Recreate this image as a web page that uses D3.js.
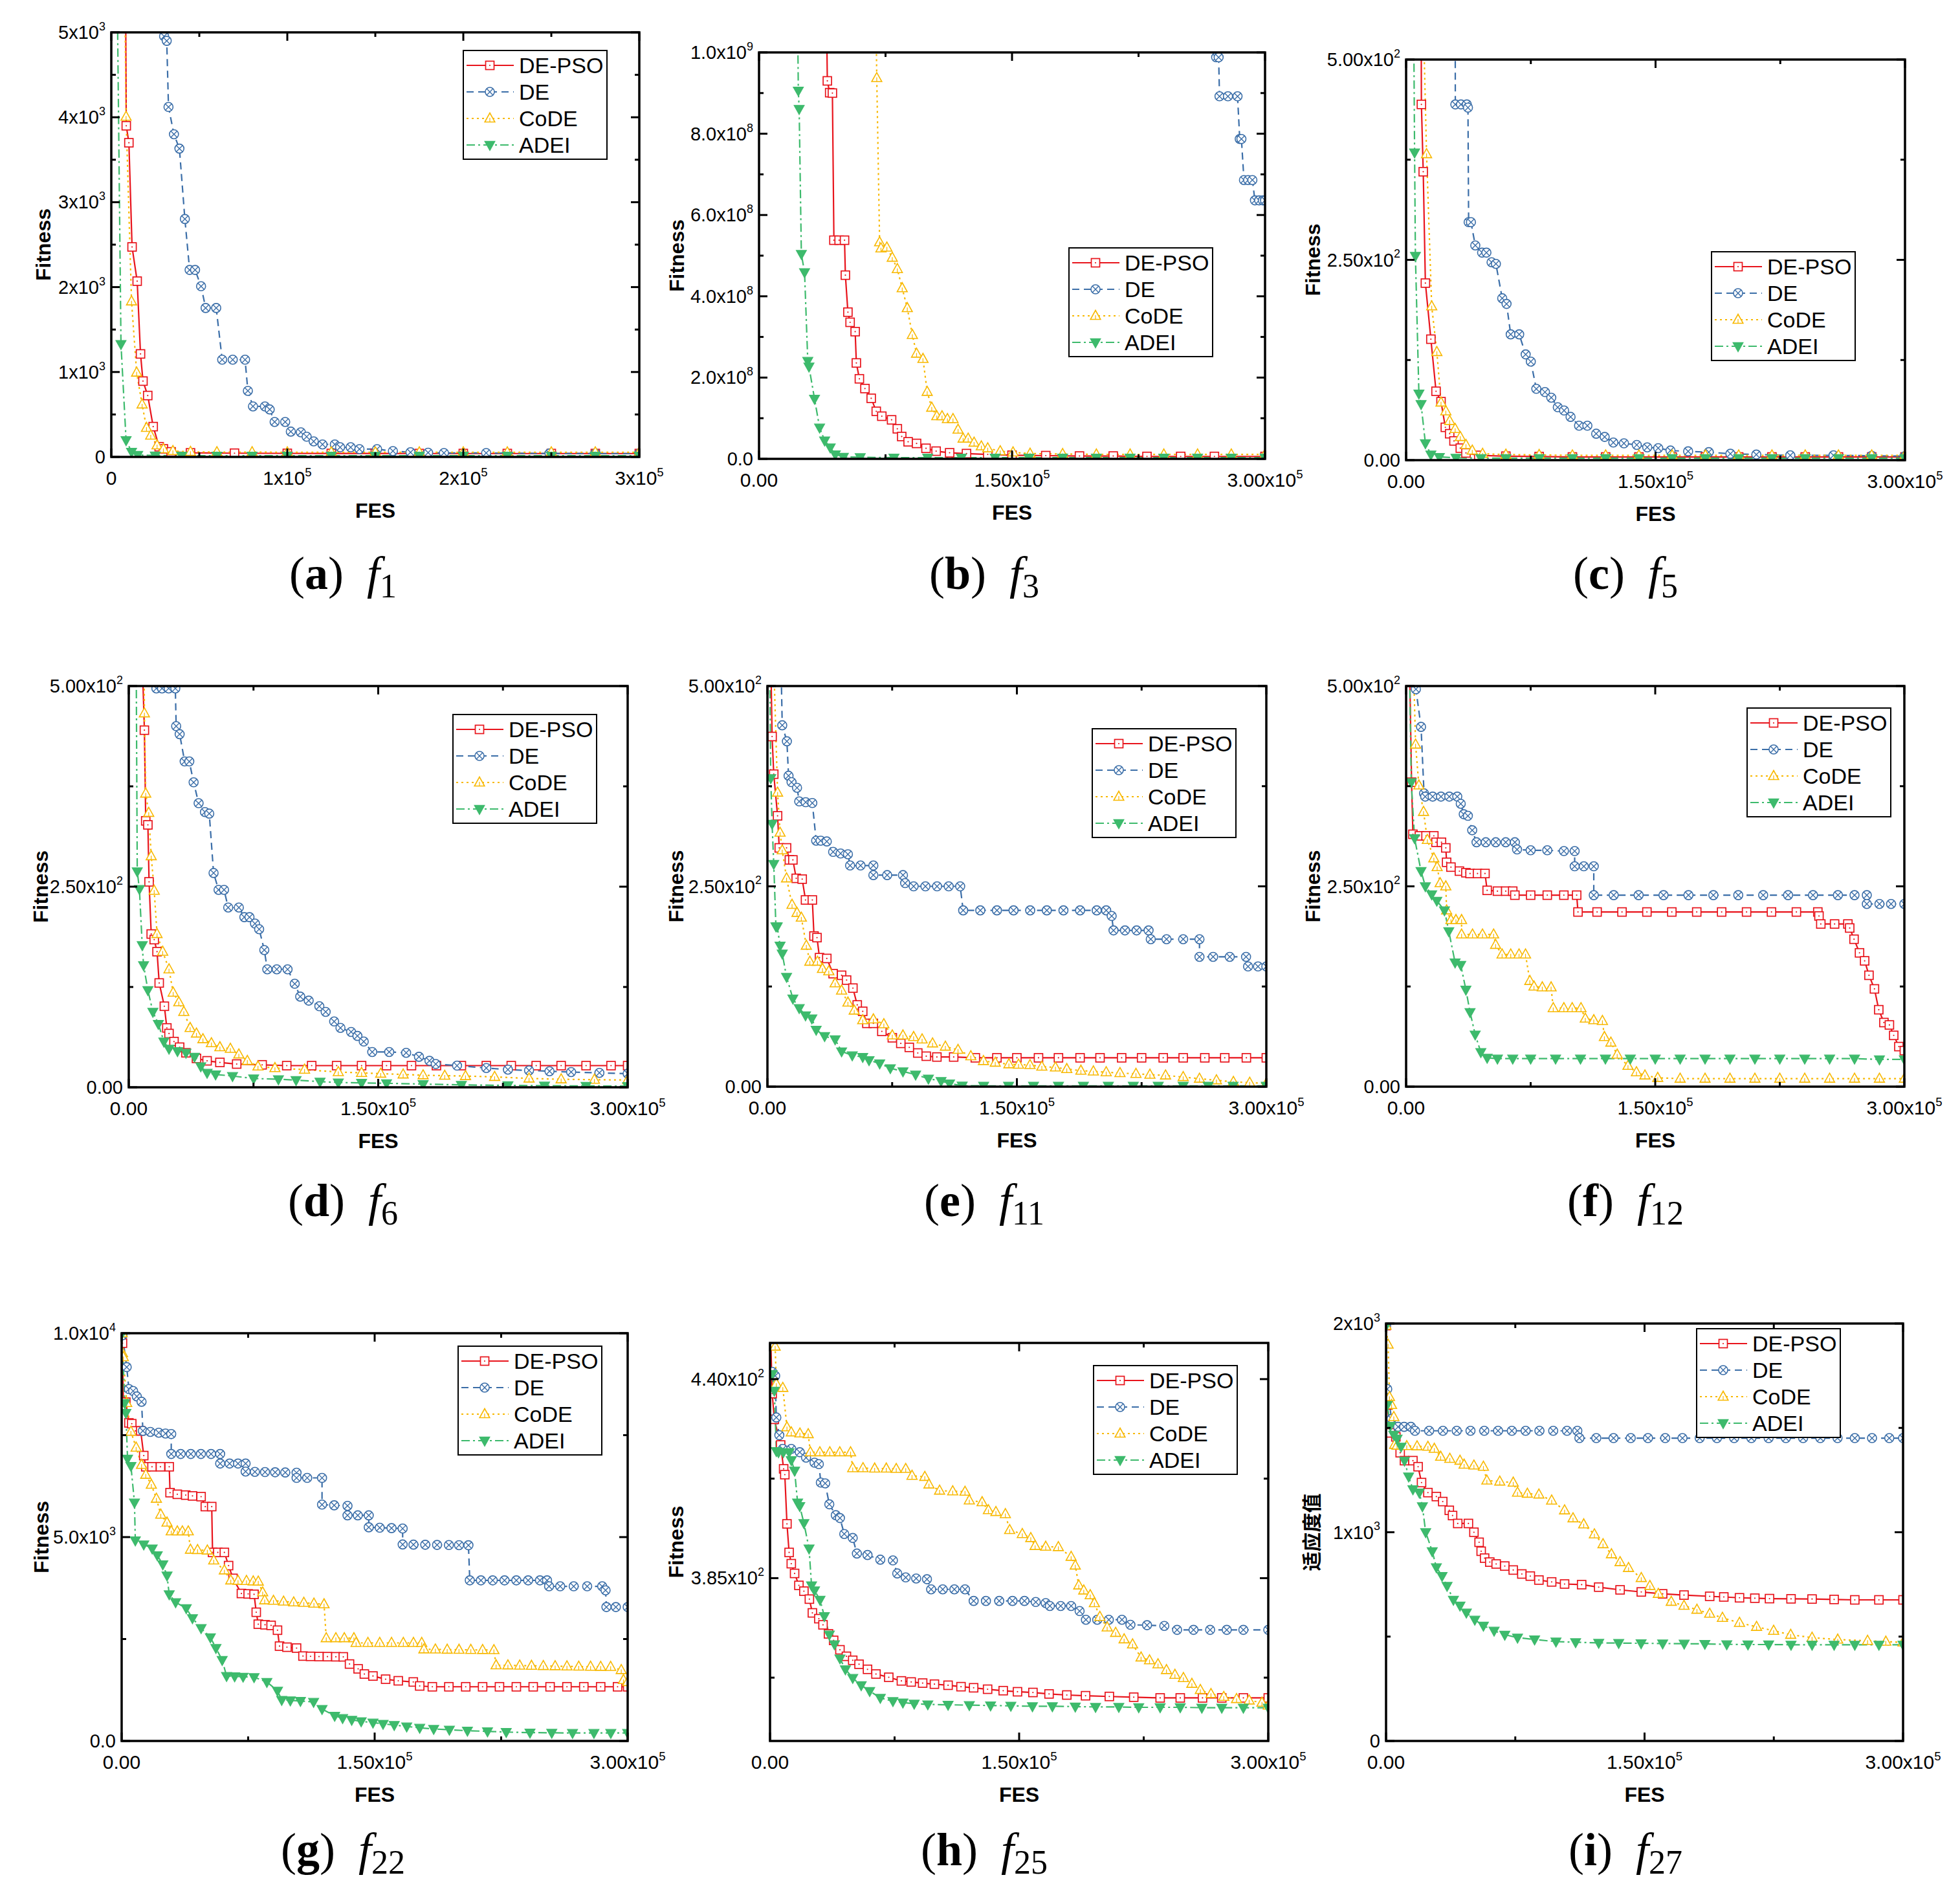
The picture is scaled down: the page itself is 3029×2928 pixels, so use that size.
<!DOCTYPE html>
<html><head><meta charset="utf-8">
<script src="https://cdn.jsdelivr.net/npm/d3@7"></script>
<style>body{margin:0;background:#fff}</style>
</head><body>
<svg id="c" width="3029" height="2928"></svg>
<script>
// ---------- DATA (x in thousands of FES) ----------
const seriesNames = ["DE-PSO","DE","CoDE","ADEI"];

// f1
const f1_DEPSO=[[8,6000],[8.5,3900],[10,3700],[11.8,2473],[14.7,2070],[16.6,1213],[18,893],[20.7,723],[23.8,357],[27.2,120],[29.6,95],[34,60],[45,48],[70,44],[100,42],[125,41],[150,41],[175,40],[200,40],[225,40],[250,40],[275,40],[300,40]];
const f1_DE=[[29.5,5500],[30,4954],[31.5,4900],[32.5,4121],[35.6,3800],[38.7,3631],[41.8,2802],[44.5,2202],[47.6,2202],[51,2010],[53.6,1754],[59.6,1754],[63,1145],[69,1145],[76,1145],[77.6,778],[80.5,595],[87.3,595],[90,559],[92.8,412],[98.8,412],[102,298],[107.7,290],[111,238],[115,183],[120,147],[127,147],[130,114],[136,114],[141,92],[151,92],[160,69],[170,55],[180,50],[189,46],[213,46],[249,41],[275,40],[300,40]];
const f1_CoDE=[[7.4,6000],[8.4,4007],[11.5,1832],[14.4,994],[17.5,618],[20,343],[22.4,252],[26,137],[29.6,92],[35,70],[45,60],[60,57],[80,56],[100,55],[125,55],[150,55],[175,55],[200,55],[225,55],[250,55],[275,55],[300,55]];
const f1_ADEI=[[3.1,6000],[5.5,1328],[8.4,197],[11.5,60],[15,23],[25,16],[40,15],[60,15],[80,15],[100,15],[125,15],[150,15],[175,15],[200,15],[225,15],[250,15],[275,15],[300,15]];

// f3
const f3_DEPSO=[[39.7,1.2e9],[40.5,930e6],[41.9,901e6],[43.5,900e6],[44.4,538e6],[47.5,538e6],[50.7,538e6],[51.2,452e6],[52.7,361e6],[54,336e6],[57,313e6],[57.7,236e6],[59.5,197e6],[62.8,173e6],[66.5,149e6],[69.5,117e6],[72.8,105e6],[78.6,96e6],[82,74e6],[84.6,55e6],[88.4,42e6],[93.4,38e6],[99,26e6],[105,19e6],[113,15e6],[123,13e6],[135.6,11e6],[150,9e6],[170,8e6],[190,7e6],[210,7e6],[230,6e6],[250,6e6],[270,6e6],[300,6e6]];
const f3_DE=[[270,1.1e9],[271,988e6],[272.5,988e6],[273,892e6],[278,892e6],[283.7,892e6],[285,787e6],[286,787e6],[287.5,686e6],[290,686e6],[292.5,686e6],[294,636e6],[296.5,636e6],[298.7,636e6],[300,636e6]];
const f3_CoDE=[[69,1.2e9],[69.8,937e6],[71.5,533e6],[72.3,518e6],[75.8,520e6],[79,495e6],[82,467e6],[84.9,420e6],[87.9,371e6],[90.9,305e6],[93.4,259e6],[97.2,246e6],[99.7,165e6],[102.4,126e6],[105.4,105e6],[108.5,105e6],[111.7,98e6],[115,98e6],[118,72e6],[121,50e6],[124,50e6],[127.5,40e6],[131.8,31e6],[135.6,26e6],[143,19e6],[150.6,16e6],[160.7,13e6],[180,12e6],[200,11e6],[220,11e6],[240,11e6],[260,11e6],[280,11e6],[300,11e6]];
const f3_ADEI=[[22.6,1.2e9],[23.3,906e6],[23.8,861e6],[25.1,504e6],[27,459e6],[28.9,241e6],[29.6,227e6],[32.9,148e6],[35.9,77e6],[38.9,45e6],[42.2,28e6],[45.2,11e6],[50,5e6],[60,4e6],[80,3e6],[100,3e6],[120,3e6],[140,3e6],[160,3e6],[180,3e6],[200,3e6],[220,3e6],[240,3e6],[260,3e6],[280,3e6],[300,3e6]];

// f5
const f5_DEPSO=[[9,600],[9.2,444],[10.3,360],[11.6,221],[14.9,151],[18,86],[21,73],[23.6,41],[26.2,33],[28.8,24],[32.6,15],[36,9],[43.7,6],[60,5],[80,4.5],[100,4],[120,4],[140,4],[160,4],[180,4],[200,4],[220,4],[240,4],[260,4],[280,4],[300,4]];
const f5_DE=[[29.5,600],[29.6,444],[33,444],[36.5,444],[37.2,440],[37.6,297],[39,297],[41.6,268],[45.7,259],[48.3,259],[51.4,247],[54,245],[57.8,202],[60.4,195],[62.9,157],[68,157],[71.9,132],[75,123],[78.3,89],[83.5,85],[87.3,78],[91.2,66],[95,62],[98.9,54],[104,43],[109,43],[114.3,33],[119.4,29],[124.6,22],[131,21],[138.7,19],[145,16],[151.6,15],[159,12],[169.6,11],[182,10],[195,8],[210.6,7],[231,6],[257,6],[280,5.5],[300,5]];
const f5_CoDE=[[9.8,600],[12.3,382],[15.4,192],[18.5,135],[21,72],[23.9,61],[26.2,49],[29.5,39],[32.6,29],[36,19],[39.8,12],[46,8],[60,7],[80,6.5],[100,6],[120,6],[140,6],[160,6],[180,6],[200,6],[220,6],[240,6],[260,6],[280,6],[300,6]];
const f5_ADEI=[[4.4,600],[5.1,384],[5.6,255],[7.7,83],[9,70],[11.6,21],[14.9,7],[20,4],[30,3],[45,2.5],[60,2.5],[80,2.5],[100,2.5],[120,2.5],[140,2.5],[160,2.5],[180,2.5],[200,2.5],[220,2.5],[240,2.5],[260,2.5],[280,2.5],[300,2.5]];

// f6
const f6_DEPSO=[[7.1,600],[9.4,445],[10.2,332],[11.5,327],[12.2,256],[13.5,191],[15.3,184],[17,169],[18.3,130],[21.4,101],[22.9,74],[24.2,67],[27.2,57],[30.6,50],[34.4,43],[40.7,36],[47.1,33],[54.8,31],[64.9,29],[80.2,28],[95,27],[110,27],[125,27],[140,27],[155,27],[170,27],[185,27],[200,27],[215,27],[230,27],[245,27],[260,27],[275,27],[290,27],[300,27]];
const f6_DE=[[15,600],[16.6,497],[20,497],[24,497],[28,497],[28.5,450],[30.6,440],[33.6,406],[36.4,406],[39,380],[42,354],[45.8,343],[48.4,341],[51,267],[54,246],[57.3,246],[59.8,224],[66.2,224],[69.5,212],[72.6,212],[75.9,204],[78.4,197],[81.5,171],[83.3,147],[89,147],[95.5,147],[99.8,129],[103.1,113],[108.2,108],[114.6,101],[118.4,94],[123.5,82],[127.3,74],[133.7,69],[137.5,64],[141.3,57],[146.4,44],[156.6,44],[166.8,43],[174.5,38],[180.8,33],[184.6,29],[197.4,27],[215,24],[228,22],[240.7,21],[253,20],[266,19],[283,18],[300,17]];
const f6_CoDE=[[9,600],[9.4,466],[10.2,366],[12,342],[13.5,288],[15.3,245],[17,191],[20.4,169],[24.2,147],[26.7,118],[30.1,106],[33.1,94],[36.9,74],[40.7,67],[44.6,60],[49.7,55],[54.8,50],[61.1,48],[66.2,41],[71.3,33],[77.7,26],[87.9,24],[105.7,22],[126,19],[140,18],[151.5,17],[165,16],[177,15],[190,14.5],[202.5,14],[220,13],[240.7,11],[260,10],[280,9.5],[300,9]];
const f6_ADEI=[[4.3,600],[5.1,269],[6.4,247],[8.1,177],[8.9,152],[11.5,121],[14.5,94],[17.8,79],[21.1,57],[24.2,48],[29.3,45],[34.4,43],[39.5,38],[43.3,26],[47.1,18],[52.2,16],[62.4,14],[75.1,11],[90,10],[100.6,9],[115,7],[126,6],[140,5.5],[155,5],[177,4],[200,3],[228,2.4],[250,2],[275,1.7],[300,1.5]];

// f11
const f11_DEPSO=[[1.5,600],[2.8,437],[3.8,390],[6.1,338],[7.1,298],[11.5,298],[13.2,283],[15.3,283],[17.3,260],[20.9,259],[22.9,233],[27,233],[28,188],[29.8,186],[31.3,161],[35.7,160],[39.5,141],[44.6,139],[47.6,133],[51.4,123],[54,102],[57.3,94],[59.8,79],[63.7,79],[68.8,69],[75.1,61],[80.2,54],[85.3,49],[90.4,42],[95.5,38],[101.9,37],[112,37],[125,36],[138,36],[150,36],[163,36],[175,36],[188,36],[200,36],[213,36],[225,36],[238,36],[250,36],[263,36],[275,36],[288,36],[300,36]];
const f11_DE=[[7.5,600],[8.9,451],[11.7,431],[12.7,388],[14.5,380],[17.8,373],[19.1,356],[23,355],[27,354],[29.3,307],[32,307],[35.7,306],[39.5,293],[44,291],[48.4,290],[49.7,276],[56,276],[63.7,276],[63.7,264],[72,264],[81.5,264],[82.8,254],[87.9,250],[95,250],[102,250],[109,250],[115.9,250],[117.7,220],[128,220],[138,220],[148,220],[158,220],[168,220],[178,220],[188,220],[198,220],[203.7,220],[207,213],[208.1,195],[215,195],[222,195],[229.2,195],[230.5,184],[240,184],[250,184],[259.8,184],[259.8,162],[268,162],[278,162],[287.8,162],[289,150],[295,150],[300,150]];
const f11_CoDE=[[2.8,600],[6.1,367],[7.6,317],[8.9,295],[11.5,260],[14.8,227],[17.8,217],[20.4,211],[23.4,176],[25.5,156],[30.1,156],[33.1,147],[36.9,144],[40.7,129],[44.6,120],[48.4,105],[52.2,95],[57.3,83],[63.7,84],[70,78],[75.1,64],[81.5,64],[87.9,62],[93,59],[99.3,54],[107,50],[114.6,46],[122.3,38],[129.9,32],[137,30],[145.2,28],[151,27.5],[157.9,27],[165,25],[173.2,24],[180,22],[188.5,20],[196,19],[203.7,18],[212,17],[221.6,16],[230,15],[239.4,14],[250,12],[259.8,10],[270,8],[280.2,6],[290,5],[300,4]];
const f11_ADEI=[[1,600],[2,385],[2.8,328],[3.8,278],[5.1,200],[5.9,200],[7.6,176],[8.9,166],[11.5,137],[15.3,110],[19.1,98],[22.9,89],[26.7,85],[29.3,71],[34.4,63],[40.7,59],[44.6,44],[51,39],[57.3,37],[61.1,33],[67.5,29],[73.9,23],[81.5,19],[89.1,15],[96.8,10],[104.4,7],[109.5,4],[117.1,1.2],[130,1],[145,1],[160,1],[175,1],[190,1],[205,1],[220,1],[235,1],[250,1],[265,1],[280,1],[300,1]];

// f12
const f12_DEPSO=[[1.5,600],[3.3,380],[4.1,315],[8,313],[12,313],[16.7,313],[18,305],[21.3,305],[23.9,298],[24.4,280],[27,274],[32.1,269],[36,267],[38.5,266],[43,266],[47.5,266],[48.8,245],[55,244],[60,244],[64.2,244],[65.5,239],[75,239],[85,239],[95,239],[102.7,239],[103.5,218],[115,218],[130,218],[145,218],[160,218],[175,218],[190,218],[205,218],[220,218],[235,218],[247.9,218],[248.6,213],[249.7,203],[258,203],[266,203],[267.1,198],[269.7,184],[273,167],[276.1,157],[278.7,139],[282,122],[284.6,96],[287.7,80],[291,77],[293.6,64],[296.7,50],[300,45]];
const f12_DE=[[4.5,600],[5.9,496],[9,449],[10.8,366],[11.5,362],[16,362],[21,362],[26,362],[30.8,362],[32.9,353],[34.7,340],[37.2,338],[39.8,320],[42.4,305],[48,305],[54,305],[60,305],[65.5,305],[66.8,296],[75,295],[85,295],[95,294],[101.5,294],[101.5,275],[107,275],[113,275],[113,239],[125,239],[140,239],[155,239],[170,239],[185,239],[200,239],[215,239],[230,239],[245,239],[260,239],[270,239],[277.4,239],[277.4,228],[285,228],[292,228],[300,228]];
const f12_CoDE=[[3.5,600],[5.7,427],[7.7,376],[10.5,343],[12.8,308],[16.7,285],[18.7,274],[20.5,254],[23.9,250],[24.4,220],[27,208],[30,208],[33.4,208],[33.4,190],[40,190],[46,190],[52.7,190],[53.9,177],[57.8,165],[63,165],[68,165],[71.9,165],[74.5,132],[77,125],[82,124],[87.3,124],[88.6,98],[95,98],[100,98],[105.3,98],[107.9,85],[113,83],[118.2,82],[119.4,62],[123.3,55],[127.1,40],[133.6,26],[138.7,18],[143.8,14],[151.5,11],[165,10],[180,10],[195,10],[210,10],[225,10],[240,10],[255,10],[270,10],[285,10],[300,10]];
const f12_ADEI=[[1.5,600],[3.1,380],[5.1,310],[9,269],[11.6,250],[15.4,240],[18.5,232],[23.1,220],[25.7,194],[29.5,155],[32.9,152],[36,121],[38.5,93],[41.6,65],[45,43],[48.8,36],[55,35],[64.2,35],[75,35],[90,35],[105,35],[120,35],[135,35],[150,35],[165,35],[180,35],[195,35],[210,35],[225,35],[240,35],[255,35],[270,35],[285,34],[300,34]];

// f22
const f22_DEPSO=[[0.3,10000],[0.5,9756],[1,8309],[2.5,8309],[4.3,7801],[6,7781],[8.1,7605],[11.3,7605],[13.1,6999],[14.3,6725],[18,6725],[23,6725],[28.2,6725],[28.7,6090],[33,6050],[38,6030],[42,6010],[47.1,5992],[49.6,5748],[53.4,5748],[53.9,4624],[57,4624],[60.9,4624],[63.4,4301],[66,3988],[71,3617],[75,3607],[78.5,3597],[79.8,3157],[81,2864],[85,2850],[88.6,2835],[92.4,2717],[93.6,2326],[98,2300],[103.7,2278],[107.5,2082],[112,2075],[117,2070],[122,2068],[127,2065],[131.4,2063],[135.1,1887],[140.2,1769],[143.9,1642],[149,1593],[156.5,1515],[164,1476],[172.9,1447],[176.7,1349],[184.2,1329],[194,1329],[204,1329],[214,1329],[224,1329],[234,1329],[244,1329],[254,1329],[264,1329],[274,1329],[284,1329],[294,1329],[300,1329]];
const f22_DE=[[0.5,9951],[3,9169],[4.3,8631],[6.8,8583],[9,8450],[11.8,8319],[12.6,7605],[17,7580],[22,7560],[26,7540],[29.4,7527],[29.4,7038],[35,7038],[41,7038],[47,7038],[53,7038],[58.4,7038],[58.4,6804],[64,6804],[69,6804],[73.5,6804],[73.5,6608],[79,6600],[85,6595],[91,6590],[97,6585],[103.7,6579],[103.7,6452],[110,6452],[118.8,6452],[118.8,5797],[126,5780],[133.9,5767],[133.9,5533],[140,5533],[146.5,5533],[146.5,5240],[153,5230],[160,5220],[166.6,5210],[166.6,4819],[173,4815],[180,4812],[187,4808],[194,4805],[200,4802],[205.6,4800],[206.4,3939],[213,3939],[220,3939],[227,3939],[234,3939],[241,3939],[248,3939],[252.2,3939],[253.4,3793],[260,3793],[268,3793],[276,3793],[284.9,3793],[286.9,3695],[287.4,3284],[293,3284],[300,3284]];
const f22_CoDE=[[0.3,10000],[0.5,9511],[1,9413],[3,8289],[5.5,7586],[8.6,7195],[11.8,6774],[14.3,6530],[17.6,6285],[20.6,5943],[23.2,5552],[26.9,5357],[29.4,5142],[33,5142],[36,5142],[39.5,5142],[40.8,4692],[45,4685],[50.8,4673],[54.6,4428],[60.9,4184],[64.7,3939],[69,3930],[74,3925],[78,3915],[81,3910],[83.6,3646],[84.8,3451],[90,3440],[96,3420],[102,3400],[108,3390],[114,3370],[120,3353],[121.3,2522],[127,2522],[132,2522],[137.7,2522],[139,2405],[146,2405],[153,2405],[160,2405],[167,2405],[173,2405],[177.9,2405],[179.2,2248],[186,2245],[193,2240],[200,2238],[207,2235],[214,2232],[220.7,2229],[222,1857],[229,1855],[236,1850],[243,1845],[250,1840],[257,1835],[264,1830],[271,1825],[278,1822],[284,1820],[289.9,1818],[296.2,1740],[297.5,1496],[300,1447]];
const f22_ADEI=[[0.3,10000],[1.8,8289],[2.5,8045],[3.5,6921],[5.5,6745],[7.6,5846],[8.1,4917],[13.1,4819],[18.1,4721],[21.1,4555],[24.4,4330],[26.9,4057],[28.2,3597],[32,3402],[38.3,3255],[42,3011],[47.1,2766],[52.6,2541],[55.9,2278],[59.6,1984],[62.2,1593],[67,1585],[72,1575],[78.5,1564],[86.1,1447],[92.4,1232],[94.9,1007],[100,995],[106,980],[113.8,958],[118.8,782],[126.3,616],[131,560],[136.4,518],[142,480],[149,450],[155,420],[161.6,391],[169,355],[176.7,323],[185,295],[194.3,274],[205,252],[216.9,235],[228,218],[242.1,205],[255,200],[267.3,196],[280,196],[290,196],[300,196]];

// f25
const f25_DEPSO=[[0.5,450],[1.3,436],[2.6,428.9],[6.4,421.8],[8.2,415.2],[8.9,413.6],[10.2,400],[11.5,392.1],[12.8,389],[14.8,386.3],[17.4,383],[20.4,381.4],[23.7,379.2],[25.5,375.4],[29.4,373.8],[31.9,372.1],[35.2,369.6],[38.3,367.8],[42.1,365.2],[46,363.4],[49.8,362.3],[53.6,361.2],[58.7,359.8],[63.8,358.5],[71.5,357.6],[79.1,356.6],[85,356.3],[91.9,356],[99,355.7],[107.2,355.4],[115,355],[122.6,354.7],[131,354.3],[140.4,353.9],[149,353.6],[158.3,353.4],[168,353],[178.7,352.7],[190,352.5],[204.3,352.3],[219,352.1],[234.9,351.9],[247,351.9],[260.4,351.9],[272,351.9],[285,351.9],[300,351.9]];
const f25_DE=[[1.3,442],[3.1,440.9],[3.8,429.4],[5.6,424.5],[7.7,420.7],[12.8,420.7],[17.9,419.8],[21.7,418.3],[26.8,416.9],[29.4,416.5],[30.6,411.4],[33.2,411.2],[35.7,405.4],[39.6,402.4],[42.1,401.6],[44.7,397.2],[49.8,396.1],[52.3,391.8],[58.7,391.4],[66.4,390.1],[74,389.9],[76.6,386.3],[81.7,385.2],[88,384.9],[94.5,384.7],[97,381.9],[104,381.9],[111,381.9],[117.4,381.9],[122.6,378.7],[130,378.7],[138,378.7],[146,378.7],[153.2,378.7],[160,378.4],[166,378.1],[168.5,377.3],[175,377.3],[181.3,377.3],[186.4,375.9],[190.2,373.5],[197,373.5],[204,373.5],[211.9,373.5],[217,372.1],[227,372],[237.4,371.8],[245.1,370.7],[255,370.7],[265,370.7],[275,370.7],[285,370.7],[300,370.7]];
const f25_CoDE=[[2.6,452],[3.1,449],[3.8,438.7],[7.7,437.6],[10.2,426.7],[12.8,425.3],[18,425],[23,424.8],[24.3,419.8],[30,419.8],[36,419.8],[42,419.8],[48.5,419.8],[49.8,415.4],[56,415.4],[63,415.3],[70,415.3],[76,415.2],[81.7,415.2],[85.5,413.3],[93.2,413],[95.7,410.9],[102.1,409.2],[110,409],[117.4,408.9],[120,406.5],[127.7,406],[131.5,403.8],[136,403.3],[141.7,402.7],[144.3,398.3],[151.9,397.2],[157,396.1],[159.6,393.9],[166,393.7],[173.6,393.6],[181.3,390.9],[183.8,388.5],[185.9,383],[188.9,381.6],[192.8,380.3],[195.3,378.1],[198.6,374.3],[203,371.4],[208.1,369.9],[213.2,368.1],[218.3,366.7],[223.4,363.1],[228.5,362.3],[233.6,361.2],[238.7,359.6],[243.8,358.3],[248.9,357.4],[254,355.8],[259.1,354.1],[265.5,353],[273.2,352.2],[280.9,351.6],[288.5,351.2],[296.2,350.6],[300,349.8]];
const f25_ADEI=[[1.3,441.4],[2.6,436.8],[3.8,420.1],[5.1,419.8],[8,419.8],[11.5,419.8],[12.8,417.6],[14.8,414.7],[16.6,405.9],[17.9,404.9],[20.4,400.2],[23.5,393.2],[25,383],[26.8,381.6],[30.1,379],[32.7,374.5],[35.7,369.4],[38.8,366.7],[42.1,362.8],[45.4,359.8],[49.8,357.4],[54.9,355.4],[60,353.8],[66.4,351.9],[74,351],[80,350.6],[86.8,350.3],[95,350.1],[107.2,350],[120,349.9],[132.8,349.8],[145,349.7],[158,349.6],[170,349.6],[183.8,349.5],[196,349.4],[210,349.4],[222,349.3],[234.9,349.3],[247,349.3],[260,349.2],[272,349.2],[285,349.2],[300,349.2]];

// f27
const f27_DEPSO=[[0,1990],[0.7,1610],[2.5,1476],[5.7,1457],[8.2,1381],[10.7,1343],[15.6,1343],[18.6,1314],[20.6,1238],[24.3,1190],[29.2,1171],[32.9,1147],[36.7,1105],[38.6,1080],[41.6,1042],[47.8,1042],[51,1000],[54,952],[55.2,909],[57.2,876],[60.2,857],[63.9,848],[68.9,838],[73.8,819],[78.8,800],[83.7,790],[88.7,771],[96.1,762],[103.6,752],[113.5,749],[123.4,737],[135.8,724],[148.1,714],[160.5,705],[172.9,699],[187.8,693],[196,690],[205.1,686],[214,684],[222.5,682],[235,681],[247.2,680],[260,678],[272,676],[286,676],[300,676]];
const f27_DE=[[0,1990],[0.7,1686],[3.2,1543],[7,1505],[10.5,1505],[14.4,1505],[16.8,1486],[25,1486],[33,1486],[41,1486],[49,1486],[57,1486],[65,1486],[73,1486],[81,1486],[89,1486],[97,1486],[105,1486],[111,1486],[112.2,1451],[122,1451],[132,1451],[142,1451],[152,1451],[162,1451],[172,1451],[182,1451],[192,1451],[202,1451],[212,1451],[222,1451],[232,1451],[242,1451],[252,1451],[262,1451],[272,1451],[282,1451],[292,1451],[300,1451]];
const f27_CoDE=[[0,1990],[1.2,1899],[2,1648],[3.2,1610],[4.5,1552],[5,1419],[6.4,1415],[12,1413],[18,1412],[24.3,1410],[28,1400],[31.7,1362],[37,1352],[42.9,1343],[45.3,1324],[51,1320],[56.5,1314],[58.5,1248],[66,1243],[73.8,1238],[76.3,1190],[82,1185],[88.7,1181],[96.1,1152],[103.6,1105],[108.5,1067],[114.7,1038],[120.9,990],[125.9,943],[130.8,895],[135.8,857],[140.7,829],[148.1,781],[153.1,743],[158,705],[165.5,667],[172.9,648],[180.4,629],[187.8,610],[195.2,590],[205.1,566],[215,547],[224.9,528],[234.8,509],[247.2,495],[262.1,486],[279.4,480],[290,476],[300,472]];
const f27_ADEI=[[0,1990],[0.7,1610],[2.5,1510],[4.5,1467],[6.4,1448],[8.7,1410],[10.7,1343],[13.1,1267],[15.6,1206],[19.3,1190],[21.1,1124],[23,1000],[26.8,909],[29.2,832],[32.5,790],[35.4,743],[39.1,676],[42.9,648],[46.6,615],[51.5,581],[56.5,552],[62.7,528],[68.9,509],[76.3,495],[86.2,486],[98.6,476],[110,473],[123.4,470],[135,469],[148,468],[160.5,467],[173,466],[185,465],[197.7,463],[210,462],[222,462],[235,461],[247.2,461],[260,461],[272,461],[286,461],[300,461]];

// tick labels [value, mantissa, exponent]
const xTicksA=[[0,"0",""],[100,"1x10","5"],[200,"2x10","5"],[300,"3x10","5"]];
const xMinorA=[50,150,250];
const xTicksStd=[[0,"0.00",""],[150,"1.50x10","5"],[300,"3.00x10","5"]];
const xMinorStd=[75,225];
const yTicksF1=[[0,"0",""],[1000,"1x10","3"],[2000,"2x10","3"],[3000,"3x10","3"],[4000,"4x10","3"],[5000,"5x10","3"]];
const yMinorF1=[500,1500,2500,3500,4500];
const yTicksF3=[[0,"0.0",""],[2e8,"2.0x10","8"],[4e8,"4.0x10","8"],[6e8,"6.0x10","8"],[8e8,"8.0x10","8"],[1e9,"1.0x10","9"]];
const yMinorF3=[1e8,3e8,5e8,7e8,9e8];
const yTicks500=[[0,"0.00",""],[250,"2.50x10","2"],[500,"5.00x10","2"]];
const yMinor500=[125,375];
const yTicksF22=[[0,"0.0",""],[5000,"5.0x10","3"],[10000,"1.0x10","4"]];
const yMinorF22=[2500,7500];
const yTicksF25=[[385,"3.85x10","2"],[440,"4.40x10","2"]];
const yMinorF25=[357.5,412.5];
const yTicksF27=[[0,"0",""],[1000,"1x10","3"],[2000,"2x10","3"]];
const yMinorF27=[500,1500];

// ---------- LAYOUT / STYLE ----------
const SER=[
 {name:seriesNames[0],color:"#e8141c",dash:null,mk:"sq"},
 {name:seriesNames[1],color:"#3b6ea8",dash:"11,7",mk:"cx"},
 {name:seriesNames[2],color:"#f8b800",dash:"3,5",mk:"tu"},
 {name:seriesNames[3],color:"#3dba6c",dash:"13,5,3,5",mk:"td"}
];
const panels=[
 {L:172,R:988,T:50,B:706,yd:[0,5000],xt:xTicksA,xm:xMinorA,yt:yTicksF1,ym:yMinorF1,d:[f1_DEPSO,f1_DE,f1_CoDE,f1_ADEI],lg:[716,78],ytx:78,yl:"Fitness",cap:["a","1"],cx:530,cy:910},
 {L:1173,R:1955,T:81,B:709,yd:[0,1e9],xt:xTicksStd,xm:xMinorStd,yt:yTicksF3,ym:yMinorF3,d:[f3_DEPSO,f3_DE,f3_CoDE,f3_ADEI],lg:[1652,383],ytx:1057,yl:"Fitness",cap:["b","3"],cx:1521,cy:910},
 {L:2173,R:2944,T:92,B:711,yd:[0,500],xt:xTicksStd,xm:xMinorStd,yt:yTicks500,ym:yMinor500,d:[f5_DEPSO,f5_DE,f5_CoDE,f5_ADEI],lg:[2645,389],ytx:2040,yl:"Fitness",cap:["c","5"],cx:2512,cy:910},
 {L:199,R:970,T:1060,B:1680,yd:[0,500],xt:xTicksStd,xm:xMinorStd,yt:yTicks500,ym:yMinor500,d:[f6_DEPSO,f6_DE,f6_CoDE,f6_ADEI],lg:[700,1104],ytx:74,yl:"Fitness",cap:["d","6"],cx:530,cy:1879},
 {L:1186,R:1957,T:1060,B:1679,yd:[0,500],xt:xTicksStd,xm:xMinorStd,yt:yTicks500,ym:yMinor500,d:[f11_DEPSO,f11_DE,f11_CoDE,f11_ADEI],lg:[1688,1126],ytx:1056,yl:"Fitness",cap:["e","11"],cx:1521,cy:1879},
 {L:2173,R:2943,T:1060,B:1679,yd:[0,500],xt:xTicksStd,xm:xMinorStd,yt:yTicks500,ym:yMinor500,d:[f12_DEPSO,f12_DE,f12_CoDE,f12_ADEI],lg:[2700,1094],ytx:2040,yl:"Fitness",cap:["f","12"],cx:2512,cy:1879},
 {L:188,R:970,T:2060,B:2690,yd:[0,10000],xt:xTicksStd,xm:xMinorStd,yt:yTicksF22,ym:yMinorF22,d:[f22_DEPSO,f22_DE,f22_CoDE,f22_ADEI],lg:[708,2080],ytx:75,yl:"Fitness",cap:["g","22"],cx:530,cy:2882},
 {L:1190,R:1960,T:2075,B:2690,yd:[340,450],xt:xTicksStd,xm:xMinorStd,yt:yTicksF25,ym:yMinorF25,d:[f25_DEPSO,f25_DE,f25_CoDE,f25_ADEI],lg:[1690,2110],ytx:1056,yl:"Fitness",cap:["h","25"],cx:1521,cy:2882},
 {L:2142,R:2941,T:2045,B:2690,yd:[0,2000],xt:xTicksStd,xm:xMinorStd,yt:yTicksF27,ym:yMinorF27,d:[f27_DEPSO,f27_DE,f27_CoDE,f27_ADEI],lg:[2622,2053],ytx:2038,yl:"适应度值",cap:["i","27"],cx:2512,cy:2882}
];

const SANS="'Liberation Sans', Arial, Helvetica, sans-serif";
const SERIF="'Liberation Serif', 'Times New Roman', serif";
const svg=d3.select("#c");
svg.append("rect").attr("width",3029).attr("height",2928).attr("fill","#fff");

function marker(g,type,cx,cy,col){
  if(type==="sq"){
    g.append("rect").attr("x",cx-6.5).attr("y",cy-6.5).attr("width",13).attr("height",13).attr("fill","#fff").attr("stroke",col).attr("stroke-width",1.7);
    g.append("circle").attr("cx",cx).attr("cy",cy).attr("r",1.1).attr("fill",col);
  } else if(type==="cx"){
    g.append("circle").attr("cx",cx).attr("cy",cy).attr("r",7).attr("fill","#fff").attr("stroke",col).attr("stroke-width",1.6);
    g.append("path").attr("d",`M${cx-4.9},${cy-4.9}L${cx+4.9},${cy+4.9}M${cx+4.9},${cy-4.9}L${cx-4.9},${cy+4.9}`).attr("stroke",col).attr("stroke-width",1.4);
  } else if(type==="tu"){
    g.append("path").attr("d",`M${cx},${cy-8.5}L${cx+7.8},${cy+5.5}L${cx-7.8},${cy+5.5}Z`).attr("fill","#fff").attr("stroke",col).attr("stroke-width",1.6);
    g.append("path").attr("d",`M${cx},${cy-1}L${cx},${cy+5.5}`).attr("stroke",col).attr("stroke-width",1.2);
  } else {
    g.append("path").attr("d",`M${cx},${cy+8.5}L${cx+7.8},${cy-5.5}L${cx-7.8},${cy-5.5}Z`).attr("fill",col).attr("stroke",col).attr("stroke-width",1.3);
  }
}
function supText(g,x,y,m,e,anchor,size){
  const t=g.append("text").attr("x",x).attr("y",y).attr("text-anchor",anchor).attr("font-family",SANS).attr("font-size",size).attr("fill","#000");
  t.append("tspan").text(m);
  if(e) t.append("tspan").attr("dy",-size*0.45).attr("font-size",size*0.62).text(e);
  return t;
}

panels.forEach((p,pi)=>{
  const g=svg.append("g");
  const x=d3.scaleLinear().domain([0,300]).range([p.L,p.R]);
  const y=d3.scaleLinear().domain(p.yd).range([p.B,p.T]);
  const cid="clip"+pi;
  svg.append("defs").append("clipPath").attr("id",cid).append("rect").attr("x",p.L).attr("y",p.T).attr("width",p.R-p.L).attr("height",p.B-p.T);
  const pg=g.append("g").attr("clip-path",`url(#${cid})`);
  const line=d3.line().x(d=>x(d[0])).y(d=>y(d[1]));
  SER.forEach((s,si)=>{
    pg.append("path").datum(p.d[si]).attr("d",line).attr("fill","none").attr("stroke",s.color).attr("stroke-width",2.2).attr("stroke-dasharray",s.dash);
  });
  SER.forEach((s,si)=>{
    const mg=pg.append("g");
    p.d[si].forEach(d=>marker(mg,s.mk,x(d[0]),y(d[1]),s.color));
  });
  // frame
  g.append("rect").attr("x",p.L).attr("y",p.T).attr("width",p.R-p.L).attr("height",p.B-p.T).attr("fill","none").attr("stroke","#000").attr("stroke-width",3.5);
  const tk=g.append("g").attr("stroke","#000").attr("stroke-width",3);
  const MJ=13,MN=7;
  p.xt.forEach(t=>{const X=x(t[0]);tk.append("line").attr("x1",X).attr("x2",X).attr("y1",p.B).attr("y2",p.B-MJ);tk.append("line").attr("x1",X).attr("x2",X).attr("y1",p.T).attr("y2",p.T+MJ);});
  p.xm.forEach(v=>{const X=x(v);tk.append("line").attr("x1",X).attr("x2",X).attr("y1",p.B).attr("y2",p.B-MN);tk.append("line").attr("x1",X).attr("x2",X).attr("y1",p.T).attr("y2",p.T+MN);});
  p.yt.forEach(t=>{const Y=y(t[0]);tk.append("line").attr("x1",p.L).attr("x2",p.L+MJ).attr("y1",Y).attr("y2",Y);tk.append("line").attr("x1",p.R).attr("x2",p.R-MJ).attr("y1",Y).attr("y2",Y);});
  p.ym.forEach(v=>{const Y=y(v);tk.append("line").attr("x1",p.L).attr("x2",p.L+MN).attr("y1",Y).attr("y2",Y);tk.append("line").attr("x1",p.R).attr("x2",p.R-MN).attr("y1",Y).attr("y2",Y);});
  // tick labels
  p.xt.forEach(t=>supText(g,x(t[0]),p.B+43,t[1],t[2],"middle",30));
  p.yt.forEach(t=>supText(g,p.L-9,y(t[0])+10,t[1],t[2],"end",29));
  // axis titles
  g.append("text").attr("x",(p.L+p.R)/2).attr("y",p.B+94).attr("text-anchor","middle").attr("font-family",SANS).attr("font-weight","bold").attr("font-size",32).text("FES");
  const cyT=(p.T+p.B)/2;
  g.append("text").attr("transform",`translate(${p.ytx},${cyT}) rotate(-90)`).attr("text-anchor","middle")
    .attr("font-family",p.yl==="Fitness"?SANS:"'Noto Sans CJK SC', sans-serif").attr("font-weight","bold").attr("font-size",p.yl==="Fitness"?32:30).text(p.yl);
  // legend
  const lx=p.lg[0],ly=p.lg[1],lw=222,lh=168;
  const lgG=g.append("g");
  lgG.append("rect").attr("x",lx).attr("y",ly).attr("width",lw).attr("height",lh).attr("fill","#fff").attr("stroke","#000").attr("stroke-width",2);
  SER.forEach((s,si)=>{
    const ry=ly+23+si*41;
    lgG.append("line").attr("x1",lx+5).attr("x2",lx+78).attr("y1",ry).attr("y2",ry).attr("stroke",s.color).attr("stroke-width",2.2).attr("stroke-dasharray",s.dash);
    marker(lgG,s.mk,lx+41,ry,s.color);
    lgG.append("text").attr("x",lx+86).attr("y",ry+12).attr("font-family",SANS).attr("font-size",34).attr("fill","#000").text(s.name);
  });
  // caption
  const ct=g.append("text").attr("x",p.cx).attr("y",p.cy).attr("text-anchor","middle").attr("font-family",SERIF).attr("font-size",72).attr("fill","#000");
  ct.append("tspan").text("(");
  ct.append("tspan").attr("font-weight","bold").text(p.cap[0]);
  ct.append("tspan").text(")\u2002");
  ct.append("tspan").attr("font-style","italic").text("f");
  ct.append("tspan").attr("dy",13).attr("font-size",52).text(p.cap[1]);
});
</script>
</body></html>
